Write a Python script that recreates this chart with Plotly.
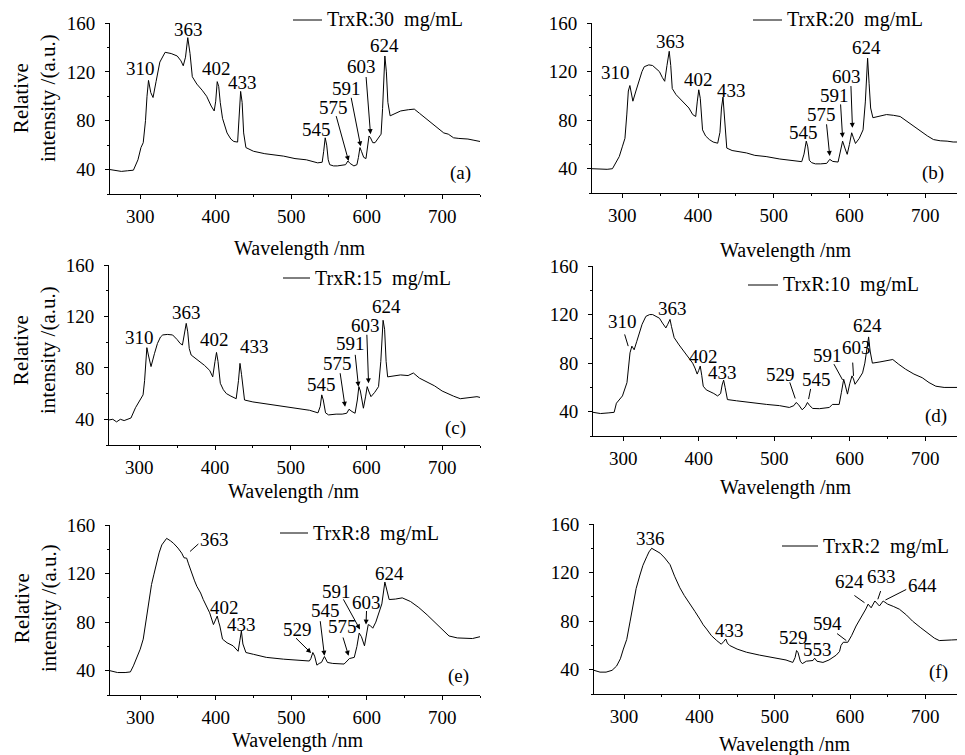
import plotly.graph_objects as go

# ---------------- data ----------------
wl_a = [260, 268, 275, 283, 291, 297, 301, 304, 307, 309, 311, 314, 317, 321, 326, 333, 341, 349, 354, 357, 360, 363, 366, 369, 375, 382, 388, 394, 398, 400, 402, 404, 406, 409, 415, 420, 424, 429, 431, 433, 435, 437, 440, 450, 465, 480, 490, 505, 520, 535, 541, 543, 545, 547, 549, 551, 556, 561, 568, 572, 575, 578, 583, 587, 589, 591, 593, 596, 599, 601, 603, 605, 608, 611, 615, 619, 621, 624, 626, 628, 631, 638, 645, 655, 663, 670, 678, 686, 695, 702, 708, 715, 722, 734, 742, 750]
int_a = [40, 39, 38.5, 39, 39.5, 48, 58, 62, 80, 100, 113, 103, 99, 112, 128, 136, 135, 133, 129, 125, 132, 148, 135, 116, 110, 105, 100, 92, 88, 96, 112, 108, 95, 82, 70, 65, 63, 62.5, 80, 104, 95, 70, 58, 55, 53, 52, 51, 49, 48, 45.5, 46, 55, 66, 60, 48, 44, 43, 43, 44, 44, 47, 45, 43, 44, 50, 58, 55, 50, 49, 58, 67.5, 66, 62, 62, 66, 69, 90, 133, 120, 95, 84, 86, 88, 89, 89.5, 86, 82, 78.5, 74, 70, 69, 66, 65.5, 65, 64, 63]

wl_b = [260, 270, 280, 287, 292, 296, 300, 303.5, 306, 308, 310, 312, 314, 318, 322, 326, 329, 335, 340, 345, 349, 353, 356, 359, 362, 364, 366, 371, 377, 382, 388, 393, 397, 399, 401, 403, 406, 410, 415, 420, 426, 429, 431, 433, 435, 438, 445, 455, 464, 475, 490, 508, 520, 530, 537, 540, 543, 545, 547, 550, 555, 562, 570, 574, 578, 585, 588, 591, 594, 597, 600, 603, 605, 608, 613, 618, 621, 624, 626, 628, 631, 640, 649, 658, 667, 676, 685, 695, 703, 711, 720, 729, 737, 745, 750]
int_b = [40, 39.5, 39.5, 40, 45, 50, 58, 65, 85, 104, 108.5, 102, 95.6, 104, 113, 120, 124, 125.5, 125, 122, 120, 115, 112, 125, 136.7, 125, 106, 101, 97, 94, 90, 84.6, 83, 95, 105, 98, 72, 67, 64, 62, 61, 70, 90, 99, 85, 57, 55, 54, 53, 51, 50, 48, 47, 46, 45.8, 52, 62.7, 58, 47, 45, 44, 44, 44.4, 47.7, 46, 45.5, 54, 62.7, 57, 51.8, 60, 69.6, 66, 60.8, 65, 72, 95, 131, 110, 90, 82, 83.5, 84.6, 84, 83, 79, 75, 70, 67, 64, 63, 62.7, 62, 62, 61.5]

wl_c = [260, 265, 270, 275, 280, 286, 289, 295, 300, 305, 307, 309, 310, 312, 315.5, 320, 324, 328, 331, 337, 344, 350, 354, 357, 360, 362, 364, 366, 368.5, 374, 380, 386, 393, 397, 400, 402, 404, 407, 411, 415, 421, 428, 431, 433, 435, 439, 450, 468, 490, 512, 525, 536, 539, 541, 543, 546, 550, 560, 568, 574, 577, 581, 585, 588, 590, 592, 596, 599, 601, 603, 606, 611, 616, 619, 622, 624, 626, 628, 636, 645, 655, 662, 670, 680, 690, 700, 707, 715, 724, 735, 746, 750]
int_c = [39.5, 40, 38, 40, 39, 40, 41, 49, 54, 59, 70, 90, 95.7, 90, 81, 91, 99, 104, 105.6, 106, 105.6, 102, 99, 97.8, 110, 114.6, 108, 95, 90, 87.5, 85, 82, 78, 73, 85, 92, 85, 68, 63, 60, 58, 56, 70, 83.5, 75, 55, 53.5, 52, 50, 48.6, 47, 45, 50, 59, 55, 45, 43.4, 44, 44, 44.7, 47.8, 46, 44.7, 55, 65.4, 62, 48.6, 58, 65.4, 62, 57.6, 61, 65.4, 85, 117, 110, 85, 73, 73.5, 74.5, 74, 76, 72, 69, 66, 62, 60, 58, 56, 57, 57.6, 57]

wl_d = [260, 270, 280, 288, 291, 295, 299, 305, 307, 309, 311.5, 314.5, 318, 321, 325, 330, 335, 339, 344, 348, 352, 356.5, 359, 362, 364, 367.5, 374, 380, 386, 392, 395, 398, 400, 402, 404, 406, 410, 414, 420, 425, 429, 431, 433, 435, 438, 450, 462, 475, 490, 507, 520, 526, 529, 532, 537, 541, 544, 547, 551, 560, 567, 573, 577, 586, 589, 592, 594, 597, 600, 603, 605, 607, 612, 617, 620, 623, 625, 627, 630, 640, 648, 657, 665, 674, 685, 696, 705, 714, 725, 738, 750]
int_d = [39.5, 38.5, 39, 39.5, 47, 50, 53, 64, 75, 88.5, 94, 91, 98, 105, 112, 118.5, 120, 120, 118, 117, 113, 109, 112, 116, 110, 101, 95, 90, 85, 80, 76, 71, 74, 77.6, 70, 61, 58, 57, 55, 53, 55, 62, 66, 60, 50, 49, 48, 47, 46, 45, 43.5, 45, 47.6, 46, 41.6, 44, 47.6, 45, 42.7, 42.5, 43, 43.5, 46, 46, 56, 66.7, 62, 54.5, 63, 69.5, 67, 62.6, 67, 72, 80, 95, 101.6, 90, 80, 81, 82, 83, 79, 75, 71, 68, 64, 61, 60, 60, 60]

wl_e = [260, 270, 280, 287, 291, 296, 300, 304, 306.6, 309, 311, 315, 318, 322, 325, 328.6, 332, 335, 340, 344, 350, 355, 358, 361.5, 364, 368, 372, 375, 380, 383.5, 388, 392, 397, 400, 402, 404, 405.5, 409, 415, 423, 429.7, 432, 434, 436, 440, 450, 467, 490, 511, 524, 526, 528.6, 531, 534, 537, 540, 544, 548, 555, 563, 570, 574, 577, 583.5, 587, 590, 593, 597, 600, 602, 605, 608, 612, 616.5, 620, 624, 626, 629.7, 638, 647, 658, 669, 680, 691, 700, 709, 720, 731, 740, 750]
int_e = [40, 38.5, 38.5, 39, 44, 52, 57.7, 66, 76.8, 90, 98.6, 111, 119, 130, 137, 143.6, 147, 149, 147, 145, 141, 136.8, 133, 132.7, 128, 120.5, 114, 109.5, 104, 98.6, 93, 87.7, 78, 82, 85, 80, 76.8, 66, 63, 60.5, 56, 65, 72.7, 62, 55, 53.5, 51, 49.5, 48.7, 48, 50, 55, 52, 44.6, 46, 46.8, 51.7, 46.8, 46, 45.5, 45.5, 48, 50, 51, 60, 71, 68, 60.5, 72, 78, 77, 75, 80, 87.7, 95, 113, 108, 98.6, 99, 100, 97, 92, 86, 79.5, 74, 68.6, 67, 67, 66.5, 68]

wl_f = [260, 268, 276, 284, 290, 295, 299, 303.5, 308, 312, 316, 321, 325, 330, 333, 336.6, 341, 347.7, 354, 361, 367, 374, 380, 387, 394, 400.6, 405, 409.5, 416, 423, 429, 432, 435, 437, 440, 450, 462.5, 480, 495, 506.6, 515, 524, 527, 529, 531, 534, 536.6, 542, 550.8, 553, 556, 564, 572, 581.7, 586, 588, 591, 597, 602, 608, 612, 617, 621, 624, 628, 633, 639, 644, 650, 658, 665.6, 675, 683, 694, 705, 712, 718.5, 725, 735, 745, 750]
int_f = [39.5, 38, 38, 39.5, 43, 49, 57, 65, 80, 95, 107, 118, 126, 133, 137, 140, 138.5, 136, 132, 126.5, 117, 107.5, 101, 95, 88, 81.6, 77, 73.5, 68, 64, 61, 63, 65.3, 62, 60, 57, 54.4, 52, 50.5, 49, 48, 46, 50, 55.8, 54, 47, 45, 47, 47.6, 49.5, 47, 46, 48, 52, 55, 60, 62.6, 62.6, 68, 76, 80, 85.7, 90, 94, 91, 96.6, 92.5, 96.6, 94, 92, 89.8, 85, 80, 74.5, 69, 66, 64, 64, 64.5, 64.8, 64.5]

series_names = ["TrxR:30  mg/mL", "TrxR:20  mg/mL", "TrxR:15  mg/mL",
                "TrxR:10  mg/mL", "TrxR:8  mg/mL", "TrxR:2  mg/mL"]
panel_tags = ["(a)", "(b)", "(c)", "(d)", "(e)", "(f)"]

peaks_a = ["310", "363", "402", "433", "545", "575", "591", "603", "624"]
peaks_b = ["310", "363", "402", "433", "545", "575", "591", "603", "624"]
peaks_c = ["310", "363", "402", "433", "545", "575", "591", "603", "624"]
peaks_d = ["310", "363", "402", "433", "529", "545", "591", "603", "624"]
peaks_e = ["363", "402", "433", "529", "545", "575", "591", "603", "624"]
peaks_f = ["336", "433", "529", "553", "594", "624", "633", "644"]

x_ticks = [300, 400, 500, 600, 700]
y_ticks = [40, 80, 120, 160]
x_title = "Wavelength /nm"
y_title = "Relative<br>intensity /(a.u.)"

# ---------------- layout helpers ----------------
# the page body adds an 8 px margin, so the figure is drawn 8 px smaller
OFF = 8
W, H = 965 - OFF, 755 - OFF
def PX(x):
    return (x - OFF) / W
def PY(y):
    return 1 - (y - OFF) / H

FONT = "Liberation Serif, Times New Roman, serif"

boxes = [(110, 480, 23, 194), (592, 963, 23, 193),
         (109, 480, 265, 445), (593, 963, 266, 436),
         (110, 480, 525, 695), (594, 963, 524, 694)]

label_pos = [
    [(300, 122.4), (364, 155), (401.6, 122.4), (436, 111), (533.6, 73), (555.8, 91), (573.5, 106.5), (593.4, 124), (623, 141.6)],
    [(291, 119), (364, 145), (400, 113.4), (444.5, 104.7), (538.7, 69.6), (563, 84.7), (580.7, 100), (596, 115.6), (622.7, 139.5)],
    [(300, 103.8), (362, 123), (399.4, 101.7), (452.5, 97), (541, 66.7), (561.6, 83.5), (578.5, 99), (598.3, 112.6), (627, 128)],
    [(299, 114.4), (365.3, 125.4), (406, 85.8), (432, 72), (508, 70.8), (556, 66.7), (570.6, 86.4), (609.5, 92.6), (623.6, 111)],
    [(399, 147.7), (411, 91.8), (434, 78), (508.8, 74), (545, 89.5), (568, 76.5), (559.3, 105.5), (600, 96), (629.7, 120.4)],
    [(335.3, 148.3), (440.4, 72), (524.3, 66.7), (557.4, 57), (570.6, 78.4), (599.3, 113), (641.3, 117), (696.5, 109.4)],
]
arrows = [
    [(559, 85, 576, 47, 2), (579, 100, 592, 59, 2), (599, 117, 605, 69, 2)],
    [(569.6, 77.8, 574, 50.4, 2), (588.2, 94.2, 591, 65.5, 2), (601.9, 109.3, 604, 73.7, 2)],
    [(565, 77, 571.8, 49.8, 2), (585, 91.3, 589.5, 65.4, 2), (600.5, 106.9, 602.8, 68, 2)],
    [(301.3, 104.9, 306.6, 94, 0), (519.9, 65.4, 527.8, 50.9, 0), (548.6, 60, 545.5, 50.4, 0),
     (578, 80.4, 590.5, 66.2, 0), (603.8, 81.7, 605, 69.5, 0)],
    [(379, 145.5, 366, 138.2, 0), (504.4, 68, 526.4, 54.5, 2), (538.2, 82, 544, 52.3, 2),
     (568, 68.6, 576, 52.3, 2), (568, 100, 591, 74, 2), (599.8, 90.4, 599, 78, 2)],
    [(580.8, 70.7, 595, 64, 0), (603.8, 102, 619.2, 95.2, 0), (641.3, 106, 636.9, 98, 0),
     (676.6, 106.7, 647, 97.4, 0)],
]
tag_pos = [(724, 37.3), (710, 36.7), (717.7, 33), (714, 36.7), (721, 36), (717.7, 38)]
legend_px = [(293, 322, 20), (753, 782, 20), (283, 310, 278),
             (748, 778, 285), (280, 308, 533), (782, 818, 546)]
xtitle_px = [(300, 248), (786, 250), (294, 492), (786, 487), (298, 740), (785, 744)]
ytitle_px = [(35, 98), (35, 350), (35, 608)]

wls = [wl_a, wl_b, wl_c, wl_d, wl_e, wl_f]
ints = [int_a, int_b, int_c, int_d, int_e, int_f]
peaks = [peaks_a, peaks_b, peaks_c, peaks_d, peaks_e, peaks_f]

fig = go.Figure()
annotations = []
shapes = []
layout = dict(
    template="none",
    width=W, height=H, margin=dict(l=0, r=0, t=0, b=0, pad=0, autoexpand=False),
    paper_bgcolor="white", plot_bgcolor="white", showlegend=False,
    font=dict(family=FONT, size=19, color="black"),
)

for i in range(6):
    n = "" if i == 0 else str(i + 1)
    xa, ya = "x" + n, "y" + n
    l, r, t, b = boxes[i]
    fig.add_trace(go.Scatter(x=wls[i], y=ints[i], mode="lines",
                             line=dict(color="black", width=1),
                             xaxis=xa, yaxis=ya, hoverinfo="skip"))
    layout["xaxis" + n] = dict(
        domain=[PX(l), PX(r)], anchor=ya, range=[260, 750], automargin=False,
        tickvals=x_ticks, ticks="outside", ticklen=4, tickwidth=1, tickcolor="black",
        minor=dict(dtick=50, tick0=250, ticks="outside", ticklen=2, tickcolor="black"),
        showline=True, linecolor="black", linewidth=1,
        showgrid=False, zeroline=False, ticklabelstandoff=1,
        tickfont=dict(family=FONT, size=19, color="black"))
    layout["yaxis" + n] = dict(
        domain=[PY(b), PY(t)], anchor=xa, range=[20, 160], automargin=False,
        tickvals=y_ticks, ticks="outside", ticklen=4, tickwidth=1, tickcolor="black",
        minor=dict(dtick=20, tick0=0, ticks="outside", ticklen=2, tickcolor="black"),
        showline=True, linecolor="black", linewidth=1,
        showgrid=False, zeroline=False, ticklabelstandoff=6,
        tickfont=dict(family=FONT, size=19, color="black"))
    for txt, (x, y) in zip(peaks[i], label_pos[i]):
        annotations.append(dict(x=x, y=y, xref=xa, yref=ya, text=txt,
                                showarrow=False, xanchor="center", yanchor="middle",
                                font=dict(family=FONT, size=19)))
    for (x0, y0, x1, y1, hd) in arrows[i]:
        annotations.append(dict(x=x1, y=y1, ax=x0, ay=y0, xref=xa, yref=ya,
                                axref=xa, ayref=ya, text="", showarrow=True,
                                arrowhead=hd, arrowsize=1, arrowwidth=1,
                                arrowcolor="black", standoff=0, startstandoff=0))
    tx, ty = tag_pos[i]
    annotations.append(dict(x=tx, y=ty, xref=xa, yref=ya, text=panel_tags[i],
                            showarrow=False, xanchor="center", yanchor="middle",
                            font=dict(family=FONT, size=19)))
    lx0, lx1, ly = legend_px[i]
    shapes.append(dict(type="line", xref="paper", yref="paper",
                       x0=PX(lx0), x1=PX(lx1), y0=PY(ly), y1=PY(ly),
                       line=dict(color="black", width=1)))
    annotations.append(dict(x=PX(lx1 + 3), y=PY(ly), xref="paper", yref="paper",
                            text=series_names[i], showarrow=False,
                            xanchor="left", yanchor="middle",
                            font=dict(family=FONT, size=20)))
    cx, cy = xtitle_px[i]
    annotations.append(dict(x=PX(cx), y=PY(cy), xref="paper", yref="paper",
                            text=x_title, showarrow=False, xanchor="center",
                            yanchor="middle", font=dict(family=FONT, size=20)))

for (cx, cy) in ytitle_px:
    annotations.append(dict(x=PX(cx), y=PY(cy), xref="paper", yref="paper",
                            text=y_title, showarrow=False, textangle=-90,
                            xanchor="center", yanchor="middle",
                            font=dict(family=FONT, size=21)))

layout["annotations"] = annotations
layout["shapes"] = shapes
fig.update_layout(**layout)
fig.write_html("out.html")
